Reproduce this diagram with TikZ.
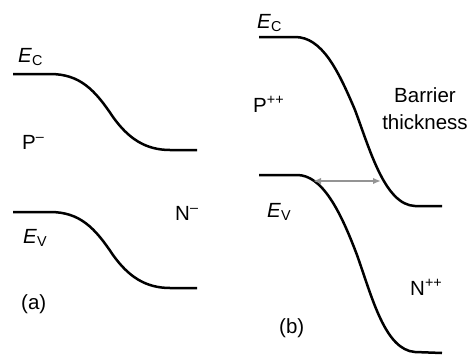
\documentclass[tikz,border=0pt]{standalone}
\usepackage{fontspec}
\setmainfont{Liberation Sans}
\usetikzlibrary{arrows.meta}

\begin{document}
\begin{tikzpicture}[
  x=1pt, y=-1pt,
  band/.style={line width=2.5pt},
  lbl/.style={inner sep=0pt, anchor=base west, font=\fontsize{20.5}{27}\selectfont},
  gap/.style={{Latex[length=8pt,width=6.5pt]}-{Latex[length=8pt,width=6.5pt]}, line width=1.6pt, color=black!42}
]
\useasboundingbox (0,0) rectangle (469,356);

% (a) P- / N- junction
\draw[band] (13,74) -- (50,74) .. controls (80,74) and (95,90) .. (113,117)
  .. controls (128,138) and (145,150) .. (170,150) -- (197,150);
\draw[band] (13,212) -- (50,212) .. controls (80,212) and (95,228) .. (113,255)
  .. controls (128,276) and (145,288) .. (170,288) -- (197,288);

\node[lbl] (ecA) at (18,62) {\textit{E}\textsubscript{C}};
\node[lbl] (pA) at (22,149) {P\textsuperscript{--}};
\node[lbl] (evA) at (23,243) {\textit{E}\textsubscript{V}};
\node[lbl] (nA) at (175,220) {N\textsuperscript{--}};
\node[lbl] (capA) at (21,309) {(a)};

% (b) P++ / N++ junction
\draw[band] (259,37) -- (295,37) .. controls (322,37) and (338,70) .. (355,110)
  .. controls (370,150) and (385,205) .. (415,206) -- (442,206);
\draw[band] (259,175) -- (297,175) .. controls (322,175) and (340,210) .. (357,255)
  .. controls (372,297) and (385,350) .. (415,352) -- (442,353);

\node[lbl] (ecB) at (257,28) {\textit{E}\textsubscript{C}};
\node[lbl] (pB) at (253,112) {P\textsuperscript{++}};
\node[lbl] (evB) at (267,217) {\textit{E}\textsubscript{V}};
\node[lbl] (nB) at (410,295) {N\textsuperscript{++}};
\node[lbl] (capB) at (279,333) {(b)};
\node[lbl, anchor=base, align=center] (bar) at (425,129) {Barrier\\thickness};

\coordinate (gapL) at (313,181);
\coordinate (gapR) at (381,181);
\draw[gap] (gapL) -- (gapR);
\end{tikzpicture}
\end{document}
